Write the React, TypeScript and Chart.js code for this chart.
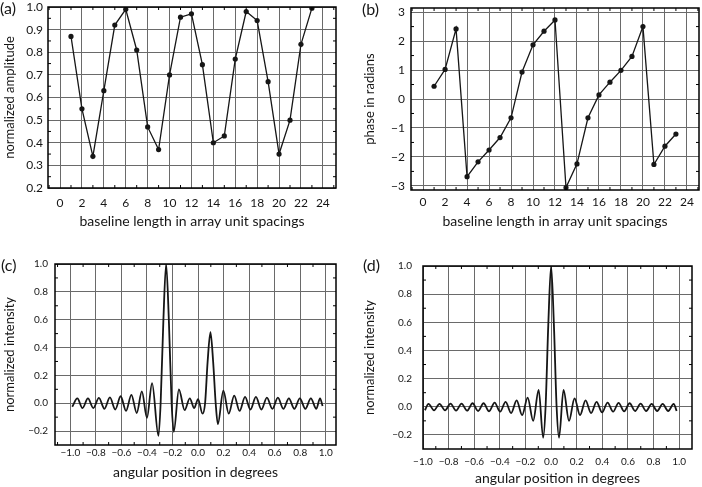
import { useEffect, useRef } from "react";
import { Chart, registerables } from "chart.js";

Chart.register(...registerables);

// ---------- data ----------
const BASELINES = [1, 2, 3, 4, 5, 6, 7, 8, 9, 10, 11, 12, 13, 14, 15, 16, 17, 18, 19, 20, 21, 22, 23];
const AMPLITUDE = [0.87, 0.55, 0.34, 0.63, 0.92, 0.99, 0.81, 0.47, 0.37, 0.7, 0.955, 0.97, 0.745, 0.4, 0.43, 0.77, 0.98, 0.94, 0.67, 0.35, 0.5, 0.835, 0.995];
const PHASE = [0.44, 1.02, 2.42, -2.68, -2.17, -1.76, -1.33, -0.65, 0.93, 1.87, 2.34, 2.73, -3.06, -2.24, -0.65, 0.14, 0.58, 0.99, 1.47, 2.5, -2.26, -1.63, -1.21];

const BASELINE_TICKS = [0, 2, 4, 6, 8, 10, 12, 14, 16, 18, 20, 22, 24];
const BASELINE_MINOR = [-1, 1, 3, 5, 7, 9, 11, 13, 15, 17, 19, 21, 23, 25];
const AMPLITUDE_TICKS = [0.2, 0.3, 0.4, 0.5, 0.6, 0.7, 0.8, 0.9, 1.0];
const AMPLITUDE_MINOR = [0.25, 0.35, 0.45, 0.55, 0.65, 0.75, 0.85, 0.95];
const PHASE_TICKS = [-3, -2, -1, 0, 1, 2, 3];
const PHASE_MINOR = [-2.5, -1.5, -0.5, 0.5, 1.5, 2.5];
const ANGLE_TICKS = [-1.0, -0.8, -0.6, -0.4, -0.2, 0.0, 0.2, 0.4, 0.6, 0.8, 1.0];
const ANGLE_MINOR = [-1.1, -0.9, -0.7, -0.5, -0.3, -0.1, 0.1, 0.3, 0.5, 0.7, 0.9];
const INTENSITY_TICKS = [-0.2, 0.0, 0.2, 0.4, 0.6, 0.8, 1.0];
const INTENSITY_MINOR = [-0.3, -0.1, 0.1, 0.3, 0.5, 0.7, 0.9];

// (c) two-source intensity profile: [angle, intensity] read at extrema
const PROFILE_C: [number, number][] = [
  [-0.985, -0.025], [-0.945, 0.035], [-0.905, -0.035], [-0.862, 0.035], [-0.82, -0.035],
  [-0.776, 0.038], [-0.733, -0.04], [-0.69, 0.042], [-0.648, -0.045], [-0.606, 0.05],
  [-0.564, -0.055], [-0.522, 0.06], [-0.48, -0.07], [-0.44, 0.085], [-0.4, -0.105],
  [-0.36, 0.145], [-0.31, -0.235], [-0.293, 0.0], [-0.272, 0.58], [-0.25, 1.0],
  [-0.228, 0.58], [-0.207, 0.0], [-0.19, -0.205], [-0.15, 0.1], [-0.105, -0.05],
  [-0.065, 0.035], [-0.03, -0.035], [0.0, 0.03], [0.035, -0.075], [0.055, 0.0],
  [0.075, 0.3], [0.097, 0.51], [0.118, 0.3], [0.138, 0.0], [0.155, -0.15],
  [0.198, 0.09], [0.24, -0.075], [0.283, 0.055], [0.325, -0.055], [0.368, 0.045],
  [0.41, -0.045], [0.453, 0.045], [0.496, -0.045], [0.539, 0.04], [0.582, -0.04],
  [0.625, 0.04], [0.668, -0.04], [0.711, 0.035], [0.754, -0.04], [0.797, 0.035],
  [0.84, -0.04], [0.883, 0.035], [0.926, -0.04], [0.955, 0.035], [0.975, -0.02],
];

// (d) single-source intensity profile
const PROFILE_D: [number, number][] = [
  [-0.985, -0.025], [-0.957, 0.02], [-0.914, -0.025], [-0.871, 0.02], [-0.828, -0.025],
  [-0.785, 0.022], [-0.742, -0.028], [-0.699, 0.022], [-0.656, -0.028], [-0.613, 0.025],
  [-0.57, -0.03], [-0.527, 0.025], [-0.484, -0.032], [-0.441, 0.03], [-0.398, -0.035],
  [-0.355, 0.035], [-0.312, -0.045], [-0.269, 0.045], [-0.226, -0.06], [-0.183, 0.065],
  [-0.14, -0.1], [-0.097, 0.12], [-0.062, -0.22], [-0.043, 0.0], [-0.022, 0.58],
  [0.0, 1.0], [0.022, 0.58], [0.043, 0.0], [0.062, -0.22], [0.097, 0.12],
  [0.14, -0.1], [0.183, 0.06], [0.226, -0.06], [0.269, 0.045], [0.312, -0.045],
  [0.355, 0.035], [0.398, -0.04], [0.441, 0.03], [0.484, -0.035], [0.527, 0.028],
  [0.57, -0.032], [0.613, 0.025], [0.656, -0.03], [0.699, 0.022], [0.742, -0.03],
  [0.785, 0.02], [0.828, -0.03], [0.871, 0.02], [0.914, -0.03], [0.957, 0.02],
  [0.98, -0.03],
];

// ---------- styling ----------
const FONT = "Lato, 'Open Sans', sans-serif";
const INK = "#161616";
const GRID = "#6a6a6a";

const minus = (s: string) => s.replace("-", "\u2212");

const framePlugin = {
  id: "frame",
  afterDraw(chart: any, _args: any, opts: any) {
    const { ctx, chartArea, scales } = chart;
    const { left, right, top, bottom } = chartArea;
    ctx.save();
    ctx.strokeStyle = "#000";
    ctx.lineWidth = 1;
    const len = 3;
    ctx.beginPath();
    (opts.minorX || []).forEach((v: number) => {
      const px = scales.x.getPixelForValue(v);
      if (px <= left + 1 || px >= right - 1) return;
      ctx.moveTo(px, top); ctx.lineTo(px, top + len);
      ctx.moveTo(px, bottom); ctx.lineTo(px, bottom - len);
    });
    (opts.minorY || []).forEach((v: number) => {
      const py = scales.y.getPixelForValue(v);
      if (py <= top + 1 || py >= bottom - 1) return;
      ctx.moveTo(left, py); ctx.lineTo(left + len, py);
      ctx.moveTo(right, py); ctx.lineTo(right - len, py);
    });
    ctx.stroke();
    ctx.lineWidth = 1.5;
    ctx.strokeRect(left, top, right - left, bottom - top);
    ctx.restore();
  },
};

type PanelSpec = {
  left: number; top: number; width: number; height: number;
  padTop: number; padRight: number; yWidth: number; xHeight: number;
  points: { x: number; y: number }[];
  smooth: boolean;
  xMin: number; xMax: number; yMin: number; yMax: number;
  xTicks: number[]; yTicks: number[]; minorX: number[]; minorY: number[];
  xFmt: (v: number) => string; yFmt: (v: number) => string;
  tickSize: number; xTickPad: number; yTickPad: number;
  xTitle: string; yTitle: string; xTitlePad: number; yTitlePad: number;
};

function Panel({ spec }: { spec: PanelSpec }) {
  const ref = useRef<HTMLCanvasElement | null>(null);
  useEffect(() => {
    if (!ref.current) return;
    const s = spec;
    const chart = new Chart(ref.current, {
      type: "line",
      data: {
        datasets: [
          {
            data: s.points,
            borderColor: INK,
            borderWidth: s.smooth ? 1.8 : 1.3,
            pointRadius: s.smooth ? 0 : 2.6,
            pointBackgroundColor: INK,
            pointBorderWidth: 0,
            cubicInterpolationMode: s.smooth ? "monotone" : "default",
            tension: 0,
            fill: false,
          },
        ],
      },
      options: {
        animation: false,
        responsive: false,
        events: [],
        layout: { padding: { left: 0, top: s.padTop, right: s.padRight, bottom: 0 } },
        plugins: {
          legend: { display: false },
          tooltip: { enabled: false },
          frame: { minorX: s.minorX, minorY: s.minorY },
        },
        scales: {
          x: {
            type: "linear",
            min: s.xMin,
            max: s.xMax,
            afterBuildTicks: (sc: any) => { sc.ticks = s.xTicks.map((v) => ({ value: v })); },
            afterFit: (sc: any) => { sc.height = s.xHeight; },
            grid: { color: GRID, lineWidth: 1, drawTicks: false },
            border: { display: false },
            ticks: {
              autoSkip: false, maxRotation: 0, padding: s.xTickPad, color: INK,
              font: { family: FONT, size: s.tickSize },
              callback: (v: any) => s.xFmt(Number(v)),
            },
            title: {
              display: true, text: s.xTitle, color: INK,
              font: { family: FONT, size: 14 },
              padding: { top: 0, bottom: s.xTitlePad },
            },
          },
          y: {
            type: "linear",
            min: s.yMin,
            max: s.yMax,
            afterBuildTicks: (sc: any) => { sc.ticks = s.yTicks.map((v) => ({ value: v })); },
            afterFit: (sc: any) => { sc.width = s.yWidth; },
            grid: { color: GRID, lineWidth: 1, drawTicks: false },
            border: { display: false },
            ticks: {
              autoSkip: false, padding: s.yTickPad, color: INK,
              font: { family: FONT, size: s.tickSize },
              callback: (v: any) => s.yFmt(Number(v)),
            },
            title: {
              display: true, text: s.yTitle, color: INK,
              font: { family: FONT, size: 13 },
              padding: { top: s.yTitlePad, bottom: 0 },
            },
          },
        },
      },
      plugins: [framePlugin],
    } as any);
    return () => chart.destroy();
  }, [spec]);
  return (
    <canvas
      ref={ref}
      width={spec.width}
      height={spec.height}
      style={{ position: "absolute", left: spec.left, top: spec.top, width: spec.width, height: spec.height }}
    />
  );
}

const toPoints = (xs: number[], ys: number[]) => xs.map((x, i) => ({ x, y: ys[i] }));
const fromPairs = (p: [number, number][]) => p.map(([x, y]) => ({ x, y }));

const fmt1 = (v: number) => minus(v.toFixed(1));
const fmt0 = (v: number) => minus(String(v));

const SPEC_A: PanelSpec = {
  left: -10, top: -10, width: 370, height: 250,
  padTop: 17, padRight: 24, yWidth: 58, xHeight: 52,
  points: toPoints(BASELINES, AMPLITUDE), smooth: false,
  xMin: -1.1, xMax: 25.2, yMin: 0.2, yMax: 1.0,
  xTicks: BASELINE_TICKS, yTicks: AMPLITUDE_TICKS, minorX: BASELINE_MINOR, minorY: AMPLITUDE_MINOR,
  xFmt: fmt0, yFmt: fmt1,
  tickSize: 12, xTickPad: 8, yTickPad: 5,
  xTitle: "baseline length in array unit spacings", yTitle: "normalized amplitude",
  xTitlePad: 10, yTitlePad: 12,
};

const SPEC_B: PanelSpec = {
  left: 355, top: -10, width: 360, height: 250,
  padTop: 18, padRight: 16, yWidth: 56, xHeight: 50,
  points: toPoints(BASELINES, PHASE), smooth: false,
  xMin: -1.1, xMax: 25.1, yMin: -Math.PI, yMax: Math.PI,
  xTicks: BASELINE_TICKS, yTicks: PHASE_TICKS, minorX: BASELINE_MINOR, minorY: PHASE_MINOR,
  xFmt: fmt0, yFmt: fmt0,
  tickSize: 12, xTickPad: 5, yTickPad: 6,
  xTitle: "baseline length in array unit spacings", yTitle: "phase in radians",
  xTitlePad: 10, yTitlePad: 7,
};

const SPEC_C: PanelSpec = {
  left: -10, top: 240, width: 370, height: 257,
  padTop: 24, padRight: 24, yWidth: 65, xHeight: 52,
  points: fromPairs(PROFILE_C), smooth: true,
  xMin: -1.12, xMax: 1.08, yMin: -0.3, yMax: 1.0,
  xTicks: ANGLE_TICKS, yTicks: INTENSITY_TICKS, minorX: ANGLE_MINOR, minorY: INTENSITY_MINOR,
  xFmt: fmt1, yFmt: fmt1,
  tickSize: 10, xTickPad: 2, yTickPad: 7,
  xTitle: "angular position in degrees", yTitle: "normalized intensity",
  xTitlePad: 16, yTitlePad: 12,
};

const SPEC_D: PanelSpec = {
  left: 355, top: 240, width: 360, height: 257,
  padTop: 26, padRight: 23, yWidth: 68, xHeight: 48,
  points: fromPairs(PROFILE_D), smooth: true,
  xMin: -1.0, xMax: 1.1, yMin: -0.3, yMax: 1.0,
  xTicks: ANGLE_TICKS, yTicks: INTENSITY_TICKS, minorX: ANGLE_MINOR, minorY: INTENSITY_MINOR,
  xFmt: fmt1, yFmt: fmt1,
  tickSize: 10, xTickPad: 7, yTickPad: 11,
  xTitle: "angular position in degrees", yTitle: "normalized intensity",
  xTitlePad: 10, yTitlePad: 7,
};

const labelStyle = (left: number, top: number): React.CSSProperties => ({
  position: "absolute", left, top, fontFamily: FONT, fontSize: 16, lineHeight: "16px", color: INK,
});

export default function App() {
  return (
    <div style={{ position: "absolute", left: 0, top: 0, width: 702, height: 487, overflow: "hidden", background: "#fff" }}>
      <Panel spec={SPEC_A} />
      <Panel spec={SPEC_B} />
      <Panel spec={SPEC_C} />
      <Panel spec={SPEC_D} />
      <span style={labelStyle(0, 0)}>(a)</span>
      <span style={labelStyle(362, 1)}>(b)</span>
      <span style={labelStyle(1, 257)}>(c)</span>
      <span style={labelStyle(363, 257)}>(d)</span>
    </div>
  );
}
